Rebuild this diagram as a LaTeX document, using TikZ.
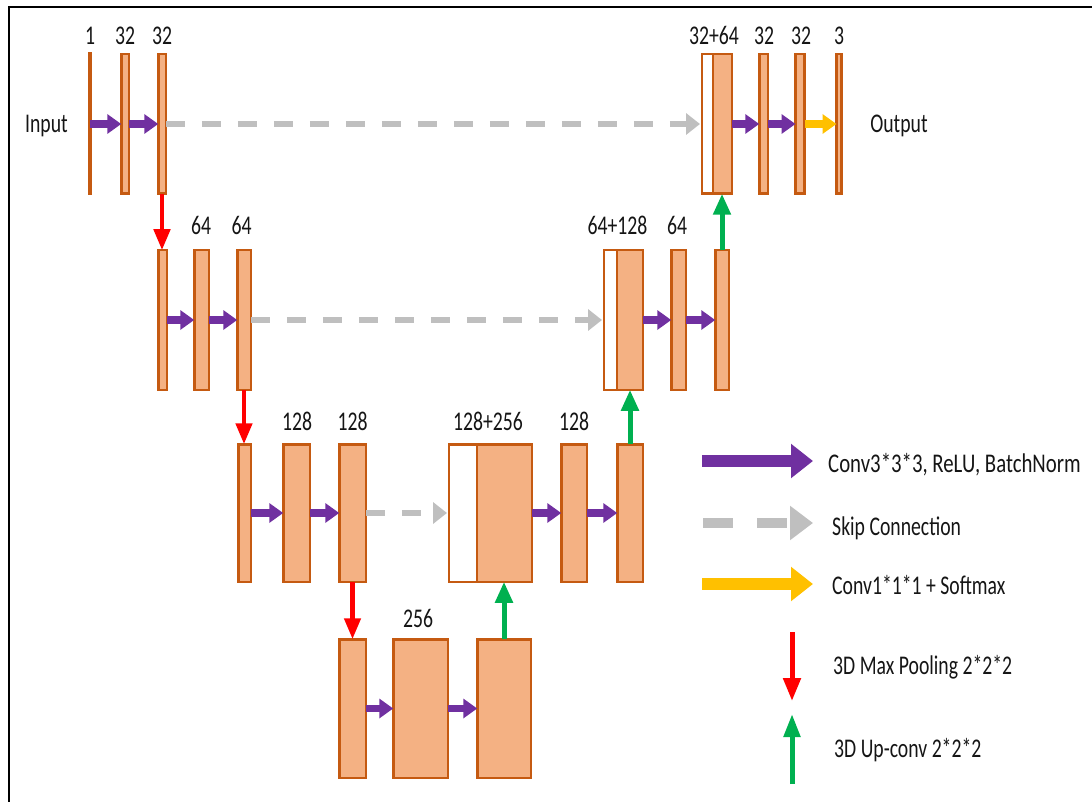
\documentclass[tikz,border=0pt]{standalone}
\usepackage{fontspec}
\setmainfont[FakeStretch=0.73]{Carlito}
\newfontfamily\legwide[FakeStretch=0.77]{Carlito}
\usetikzlibrary{arrows.meta}
\definecolor{barfill}{HTML}{F4B183}
\definecolor{barline}{HTML}{C55A11}
\definecolor{convc}{HTML}{7030A0}
\definecolor{skipc}{HTML}{BFBFBF}
\definecolor{softc}{HTML}{FFC000}
\definecolor{poolc}{HTML}{FF0000}
\definecolor{upc}{HTML}{00B050}
\definecolor{txt}{HTML}{151515}
\tikzset{
  blk/.style={draw=barline, fill=barfill, line width=2.5pt, inner sep=0pt, outer sep=0pt},
  hollow/.style={draw=barline, fill=white, line width=2.5pt, inner sep=0pt, outer sep=0pt},
  lbl/.style={font=\fontsize{27}{30}\selectfont, text=txt, inner sep=0pt, anchor=base},
  legtxt/.style={font=\fontsize{27}{30}\selectfont, text=txt, inner sep=0pt, anchor=base west},
  convarrow/.style={draw=convc, line width=7.5pt, -{Triangle[length=14pt,width=19pt]}},
  softarrow/.style={draw=softc, line width=7.5pt, -{Triangle[length=14pt,width=19pt]}},
  skiparrow/.style={draw=skipc, line width=6.5pt, dash pattern=on 19pt off 17pt, -{Triangle[length=14pt,width=21pt]}},
  poolarrow/.style={draw=poolc, line width=4.5pt, -{Triangle[length=21pt,width=16pt]}},
  uparrow/.style={draw=upc, line width=5pt, -{Triangle[length=21pt,width=17pt]}},
}
\begin{document}
\begin{tikzpicture}[x=1pt,y=-1pt]
\useasboundingbox (0,0) rectangle (1092,802);
% frame (top and left edges)
\draw[line width=2.5pt, black] (9,802) -- (9,7) -- (1092,7);

% ---------- row 1 ----------
\node[blk, fill=barline, minimum width=0.8pt, minimum height=140.5pt] (r1a) at (90,124) {};
\node[blk, minimum width=7.5pt, minimum height=139.5pt] (r1b) at (125,124) {};
\node[blk, minimum width=7.5pt, minimum height=139.5pt] (r1c) at (162,124) {};
\node[hollow, minimum width=11pt, minimum height=139.5pt] (r1w) at (707.5,124) {};
\node[blk, minimum width=19pt, minimum height=139.5pt] (r1d) at (722.5,124) {};
\node[blk, minimum width=8.5pt, minimum height=139.5pt] (r1e) at (763.5,124) {};
\node[blk, minimum width=9pt, minimum height=139.5pt] (r1f) at (800,124) {};
\node[blk, minimum width=5pt, minimum height=139.5pt] (r1g) at (839,124) {};

% ---------- row 2 ----------
\node[blk, minimum width=8.5pt, minimum height=139.5pt] (r2a) at (162.5,320) {};
\node[blk, minimum width=14.5pt, minimum height=139.5pt] (r2b) at (201.5,320) {};
\node[blk, minimum width=13.5pt, minimum height=139.5pt] (r2c) at (244,320) {};
\node[hollow, minimum width=13pt, minimum height=139.5pt] (r2w) at (610.5,320) {};
\node[blk, minimum width=26pt, minimum height=139.5pt] (r2d) at (630,320) {};
\node[blk, minimum width=14.5pt, minimum height=139.5pt] (r2e) at (678.5,320) {};
\node[blk, minimum width=13.5pt, minimum height=139.5pt] (r2f) at (722,320) {};

% ---------- row 3 ----------
\node[blk, minimum width=12.5pt, minimum height=137.5pt] (r3a) at (244.5,513) {};
\node[blk, minimum width=26.5pt, minimum height=137.5pt] (r3b) at (296.5,513) {};
\node[blk, minimum width=26.5pt, minimum height=137.5pt] (r3c) at (352.5,513) {};
\node[hollow, minimum width=28pt, minimum height=137.5pt] (r3w) at (463,513) {};
\node[blk, minimum width=55pt, minimum height=137.5pt] (r3d) at (504.5,513) {};
\node[blk, minimum width=25.5pt, minimum height=137.5pt] (r3e) at (574,513) {};
\node[blk, minimum width=25.5pt, minimum height=137.5pt] (r3f) at (630,513) {};

% ---------- row 4 ----------
\node[blk, minimum width=26.5pt, minimum height=138.5pt] (r4a) at (352.5,708.5) {};
\node[blk, minimum width=54.5pt, minimum height=138.5pt] (r4b) at (420.5,708.5) {};
\node[blk, minimum width=53.5pt, minimum height=138.5pt] (r4c) at (504,708.5) {};

% ---------- labels ----------
\node[lbl] (l1a) at (90,45) {1};
\node[lbl] (l1b) at (125,45) {32};
\node[lbl] (l1c) at (162,45) {32};
\node[lbl] (l1d) at (714,45) {32+64};
\node[lbl] (l1e) at (764,45) {32};
\node[lbl] (l1f) at (801,45) {32};
\node[lbl] (l1g) at (839,45) {3};
\node[lbl] (l2b) at (201,235) {64};
\node[lbl] (l2c) at (241.5,235) {64};
\node[lbl] (l2d) at (617.5,235) {64+128};
\node[lbl] (l2e) at (677,235) {64};
\node[lbl] (l3b) at (297,430) {128};
\node[lbl] (l3c) at (352.5,430) {128};
\node[lbl] (l3d) at (488,430) {128+256};
\node[lbl] (l3e) at (574,430) {128};
\node[lbl] (l4b) at (418,627) {256};
\node[lbl] (inp) at (46.5,133) {Input};
\node[lbl] (outp) at (899,133) {Output};

% ---------- conv arrows ----------
\draw[convarrow] (r1a.east) -- (r1b.west);
\draw[convarrow] (r1b.east) -- (r1c.west);
\draw[convarrow] (r1d.east) -- (r1e.west);
\draw[convarrow] (r1e.east) -- (r1f.west);
\draw[softarrow] (r1f.east) -- (r1g.west);
\draw[convarrow] (r2a.east) -- (r2b.west);
\draw[convarrow] (r2b.east) -- (r2c.west);
\draw[convarrow] (r2d.east) -- (r2e.west);
\draw[convarrow] (r2e.east) -- (r2f.west);
\draw[convarrow] (r3a.east) -- (r3b.west);
\draw[convarrow] (r3b.east) -- (r3c.west);
\draw[convarrow] (r3d.east) -- (r3e.west);
\draw[convarrow] (r3e.east) -- (r3f.west);
\draw[convarrow] (r4a.east) -- (r4b.west);
\draw[convarrow] (r4b.east) -- (r4c.west);

% ---------- skip connections ----------
\draw[skiparrow, shorten >=2pt] (r1c.east) -- (r1w.west);
\draw[skiparrow, shorten >=2pt] (r2c.east) -- (r2w.west);
\draw[skiparrow, shorten >=2pt] (r3c.east) -- (r3w.west);

% ---------- pooling ----------
\draw[poolarrow] (r1c.south) -- (r1c.south |- r2a.north);
\draw[poolarrow] (r2c.south) -- (r2c.south |- r3a.north);
\draw[poolarrow] (r3c.south) -- (r3c.south |- r4a.north);

% ---------- up-conv ----------
\draw[uparrow] (r4c.north) -- (r4c.north |- r3d.south);
\draw[uparrow] (r3f.north) -- (r3f.north |- r2d.south);
\draw[uparrow] (r2f.north) -- (r2f.north |- r1d.south);

% ---------- legend ----------
\coordinate (lg1a) at (702,461); \coordinate (lg1b) at (813,461);
\coordinate (lg2a) at (703,523); \coordinate (lg2b) at (813,523);
\coordinate (lg3a) at (702,584); \coordinate (lg3b) at (813,584);
\coordinate (lg4a) at (792,632); \coordinate (lg4b) at (792,701);
\coordinate (lg5a) at (792,784); \coordinate (lg5b) at (792,714);
\draw[draw=convc, line width=12pt, -{Triangle[length=22pt,width=33pt]}] (lg1a) -- (lg1b);
\draw[draw=skipc, line width=10pt, dash pattern=on 30pt off 24pt, -{Triangle[length=23pt,width=33pt]}] (lg2a) -- (lg2b);
\draw[draw=softc, line width=12pt, -{Triangle[length=22pt,width=33pt]}] (lg3a) -- (lg3b);
\draw[draw=poolc, line width=5pt, -{Triangle[length=23pt,width=17pt]}] (lg4a) -- (lg4b);
\draw[draw=upc, line width=5pt, -{Triangle[length=23pt,width=16pt]}] (lg5a) -- (lg5b);
\node[legtxt, font=\fontsize{27}{30}\legwide] (t1) at (828,472) {Conv3*3*3, ReLU, BatchNorm};
\node[legtxt] (t2) at (832,535) {Skip Connection};
\node[legtxt] (t3) at (832,594) {Conv1*1*1 + Softmax};
\node[legtxt] (t4) at (833,674) {3D Max Pooling 2*2*2};
\node[legtxt] (t5) at (834,757) {3D Up-conv 2*2*2};
\end{tikzpicture}
\end{document}
